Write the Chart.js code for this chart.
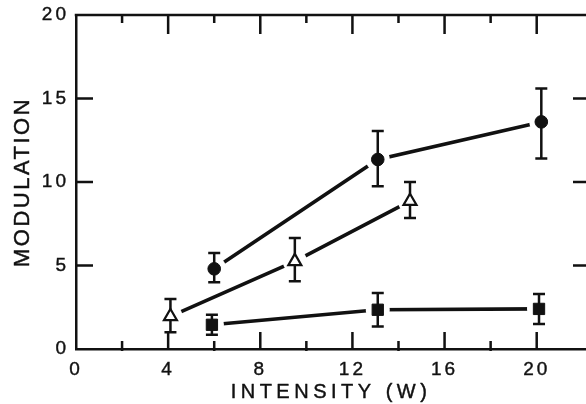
<!DOCTYPE html>
<html><head><meta charset="utf-8">
<script src="https://cdn.jsdelivr.net/npm/chart.js@4"></script>
<style>html,body{margin:0;padding:0;background:#fff}#wrap{width:586px;height:404px;position:relative}</style>
</head><body><div id="wrap"><canvas id="c"></canvas></div>
<script>
// ---- data ----
const xTickValues = [0, 4, 8, 12, 16, 20];
const xMinorTicks = [2, 6, 10, 14, 18];
const yTickValues = [0, 5, 10, 15, 20];
const xTitle = 'INTENSITY (W)';
const yTitle = 'MODULATION';

const circleX  = [6, 13.1, 20.2];
const circleY  = [4.8, 11.35, 13.6];
const circleHi = [5.75, 13.05, 15.6];
const circleLo = [4.0, 9.75, 11.4];

const triangleX  = [4.1, 9.5, 14.5];
const triangleY  = [1.95, 5.25, 8.85];
const triangleHi = [3.0, 6.65, 10.0];
const triangleLo = [1.0, 4.05, 7.85];

const squareX  = [5.9, 13.1, 20.1];
const squareY  = [1.45, 2.35, 2.4];
const squareHi = [2.05, 3.35, 3.3];
const squareLo = [0.85, 1.35, 1.5];

// ---- styling ----
const INK = '#111';
const FONT = "'Liberation Sans', Arial, sans-serif";

const series = [
  {name: 'circles', xs: circleX, ys: circleY, hi: circleHi, lo: circleLo, style: 'circle', radius: 6.3, bg: INK, bw: 1},
  {name: 'triangles', xs: triangleX, ys: triangleY, hi: triangleHi, lo: triangleLo, style: 'triangle', radius: 7.5, bg: '#fff', bw: 2.2},
  {name: 'squares', xs: squareX, ys: squareY, hi: squareHi, lo: squareLo, style: 'rect', radius: 8, bg: INK, bw: 1}
];
const pts = s => s.xs.map((x, i) => ({x: x, y: s.ys[i]}));

const datasets = [];
series.forEach(s => {
  datasets.push({label: s.name + ' line', data: pts(s), showLine: true, borderColor: INK, borderWidth: 3.6,
    borderCapStyle: 'butt', pointRadius: 0, pointHoverRadius: 0, fill: false, tension: 0, order: 3});
  datasets.push({label: s.name + ' gap', data: pts(s), showLine: false, pointRadius: 12, pointHoverRadius: 12,
    pointBackgroundColor: '#fff', pointBorderWidth: 0, pointBorderColor: '#fff', order: 2});
  datasets.push({label: s.name, data: pts(s), showLine: false, pointStyle: s.style, pointRadius: s.radius,
    pointHoverRadius: s.radius, pointBackgroundColor: s.bg, pointBorderColor: INK, pointBorderWidth: s.bw,
    order: 1, isMarker: true, series: s});
});

const framePlugin = {
  id: 'frame',
  beforeDraw(chart) {
    chart._ebDone = false;
    for (const s of [chart.scales.x, chart.scales.y]) {
      if (s._lsWrapped) continue;
      const dt = s.drawTitle, dl = s.drawLabels;
      s.drawTitle = function (...a) {
        const c = this.ctx;
        c.save();
        c.letterSpacing = this.axis === 'x' ? '4.5px' : '2.5px';
        const origFill = c.fillText;
        c.fillText = function (t, px, py, mw) {
          origFill.call(this, t, px, py, mw);
          this.lineWidth = 0.45; this.strokeStyle = INK; this.lineJoin = 'round';
          this.strokeText(t, px, py, mw);
        };
        dt.apply(this, a);
        delete c.fillText;
        c.restore();
      };
      s.drawLabels = function (...a) { const c = this.ctx; c.save(); c.letterSpacing = '3px'; dl.apply(this, a); c.restore(); };
      s._lsWrapped = true;
    }
  },
  beforeDatasetsDraw(chart) {
    const {ctx, chartArea: a, scales: {x, y}} = chart;
    ctx.save();
    ctx.strokeStyle = INK; ctx.lineWidth = 2.5; ctx.lineCap = 'butt';
    ctx.beginPath();
    ctx.moveTo(a.left - 1.25, a.top); ctx.lineTo(a.right, a.top);
    xTickValues.forEach(v => {
      if (v === 0) return;
      const px = x.getPixelForValue(v);
      ctx.moveTo(px, a.bottom); ctx.lineTo(px, a.bottom - 17);
      ctx.moveTo(px, a.top); ctx.lineTo(px, a.top + 19);
    });
    xMinorTicks.forEach(v => {
      const px = x.getPixelForValue(v);
      ctx.moveTo(px, a.bottom + 2); ctx.lineTo(px, a.bottom - 8);
      ctx.moveTo(px, a.top); ctx.lineTo(px, a.top + 8);
    });
    yTickValues.forEach(v => {
      if (v === 0 || v === 20) return;
      const py = y.getPixelForValue(v);
      ctx.moveTo(a.left, py); ctx.lineTo(a.left + 17, py);
      ctx.moveTo(a.right, py); ctx.lineTo(a.right - 13, py);
    });
    ctx.stroke();
    ctx.restore();
  },
  beforeDatasetDraw(chart, args) {
    const ds = chart.data.datasets[args.index];
    if (!ds.isMarker || chart._ebDone) return;
    chart._ebDone = true;
    const {ctx, scales: {x, y}} = chart;
    ctx.save();
    ctx.strokeStyle = INK; ctx.lineWidth = 2.5; ctx.lineCap = 'butt';
    ctx.beginPath();
    series.forEach(s => {
      s.xs.forEach((xv, i) => {
        const px = x.getPixelForValue(xv);
        const pt = y.getPixelForValue(s.hi[i]);
        const pb = y.getPixelForValue(s.lo[i]);
        ctx.moveTo(px, pt); ctx.lineTo(px, pb);
        ctx.moveTo(px - 6, pt); ctx.lineTo(px + 6, pt);
        ctx.moveTo(px - 6, pb); ctx.lineTo(px + 6, pb);
      });
    });
    ctx.stroke();
    ctx.restore();
  }
};

new Chart(document.getElementById('c'), {
  type: 'scatter',
  data: {datasets: datasets},
  plugins: [framePlugin],
  options: {
    responsive: true, maintainAspectRatio: false, animation: false,
    layout: {autoPadding: false, padding: {top: 15, right: 0, left: 0, bottom: 0}},
    plugins: {legend: {display: false}, tooltip: {enabled: false}},
    events: [],
    scales: {
      x: {
        type: 'linear', min: 0, max: 22.14,
        afterBuildTicks: s => { s.ticks = xTickValues.map(v => ({value: v})); },
        afterFit: s => { s.height = 55; s.paddingLeft = 0; s.paddingRight = 0; },
        grid: {display: false, drawTicks: false},
        border: {display: true, color: INK, width: 2.5},
        ticks: {color: INK, font: {family: FONT, size: 19}, padding: 9, maxRotation: 0, autoSkip: false,
          textStrokeColor: INK, textStrokeWidth: 0.4},
        title: {display: true, text: xTitle, color: INK, font: {family: FONT, size: 20}, padding: {top: 0, bottom: 0}}
      },
      y: {
        type: 'linear', min: 0, max: 20,
        afterBuildTicks: s => { s.ticks = yTickValues.map(v => ({value: v})); },
        afterFit: s => { s.width = 76; s.paddingTop = 0; s.paddingBottom = 0; },
        grid: {display: false, drawTicks: false},
        border: {display: true, color: INK, width: 2.5},
        ticks: {color: INK, font: {family: FONT, size: 19}, padding: 7, autoSkip: false,
          textStrokeColor: INK, textStrokeWidth: 0.4},
        title: {display: true, text: yTitle, color: INK, font: {family: FONT, size: 22}, padding: {top: 10, bottom: 0}}
      }
    }
  }
});
</script>
</body></html>
